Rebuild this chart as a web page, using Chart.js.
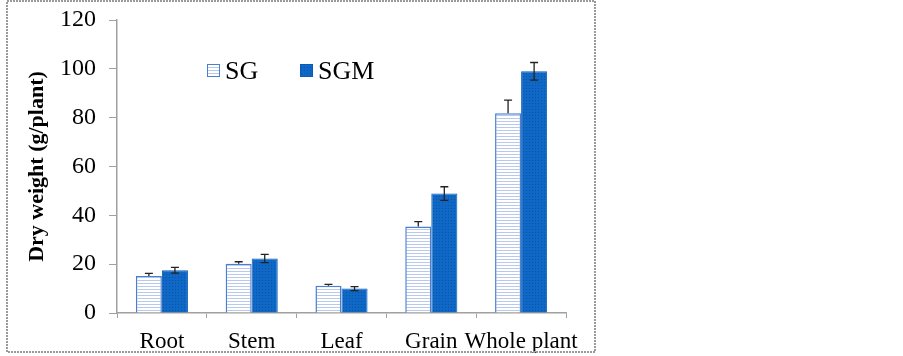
<!DOCTYPE html>
<html>
<head>
<meta charset="utf-8">
<script src="https://cdn.jsdelivr.net/npm/chart.js@4/dist/chart.umd.min.js"></script>
<style>
  body { margin: 0; background: #fff; }
  #wrap { width: 903px; height: 356px; position: relative; }
</style>
</head>
<body>
<div id="wrap"><canvas id="chart"></canvas></div>
<script>
const categories = ["Root", "Stem", "Leaf", "Grain", "Whole plant"];
const sgValues = [15.2, 20.2, 11.2, 35.4, 81.8];
const sgErrors = [1.0, 0.8, 0.5, 2.0, 5.4];
const sgmValues = [17.5, 22.3, 10.0, 48.9, 99.0];
const sgmErrors = [1.2, 1.7, 0.8, 2.8, 3.6];
const yTicks = [0, 20, 40, 60, 80, 100, 120];

const serif = "'Liberation Serif', 'Times New Roman', serif";

// striped fill for SG, dotted fill for SGM
function makePattern(bg, fg, type) {
    const c = document.createElement("canvas");
    c.width = 3;
    c.height = 3;
    const p = c.getContext("2d");
    p.fillStyle = bg;
    p.fillRect(0, 0, 3, 3);
    p.fillStyle = fg;
    if (type === "lines") {
        p.fillRect(0, 1, 3, 1);
    } else {
        p.fillRect(1, 1, 1, 1);
    }
    return document.createElement("canvas").getContext("2d").createPattern(c, "repeat");
}

const sgFill = makePattern("#ffffff", "#b8c8ee", "lines");
const sgmFill = makePattern("#0f68c6", "#0a55a6", "dots");

const errorBars = {
    id: "errorBars",
    afterDatasetsDraw(chart) {
        const ctx = chart.ctx;
        const y = chart.scales.y;
        const errs = [sgErrors, sgmErrors];
        ctx.save();
        ctx.strokeStyle = "#222";
        ctx.lineWidth = 1.3;
        chart.data.datasets.forEach((ds, i) => {
            const meta = chart.getDatasetMeta(i);
            meta.data.forEach((bar, j) => {
                const v = ds.data[j];
                const e = errs[i][j];
                const top = y.getPixelForValue(v + e);
                const bottom = i === 1 ? y.getPixelForValue(v - e) : y.getPixelForValue(v);
                ctx.beginPath();
                ctx.moveTo(bar.x, top);
                ctx.lineTo(bar.x, bottom);
                ctx.moveTo(bar.x - 4, top);
                ctx.lineTo(bar.x + 4, top);
                if (i === 1) {
                    ctx.moveTo(bar.x - 4, bottom);
                    ctx.lineTo(bar.x + 4, bottom);
                }
                ctx.stroke();
            });
        });
        ctx.restore();
    }
};

const legendAndFrame = {
    id: "legendAndFrame",
    afterDraw(chart) {
        const ctx = chart.ctx;
        ctx.save();
        // outer frame
        ctx.strokeStyle = "#9a9a9a";
        ctx.lineWidth = 2;
        ctx.setLineDash([2, 1]);
        ctx.strokeRect(7, 1, 588, 351);
        ctx.setLineDash([]);
        // legend
        const items = [
            { x: 207, ds: chart.data.datasets[0] },
            { x: 300, ds: chart.data.datasets[1] }
        ];
        ctx.font = "26px " + serif;
        ctx.textBaseline = "middle";
        items.forEach(it => {
            ctx.fillStyle = it.ds.backgroundColor;
            ctx.fillRect(it.x, 64, 13, 13);
            ctx.strokeStyle = it.ds.borderColor;
            ctx.lineWidth = 1;
            ctx.strokeRect(it.x + 0.5, 64.5, 12, 12);
            ctx.fillStyle = "#000";
            ctx.fillText(it.ds.label, it.x + 18, 72);
        });
        ctx.restore();
    }
};

new Chart(document.getElementById("chart"), {
    type: "bar",
    data: {
        labels: categories,
        datasets: [
            {
                label: "SG",
                data: sgValues,
                backgroundColor: sgFill,
                borderColor: "#4a7fd0",
                borderWidth: 1.5
            },
            {
                label: "SGM",
                data: sgmValues,
                backgroundColor: sgmFill,
                borderColor: "#0a5cb8",
                borderWidth: 1
            }
        ]
    },
    options: {
        responsive: true,
        maintainAspectRatio: false,
        animation: false,
        layout: { padding: { top: 20, right: 337, bottom: 0, left: 0 } },
        plugins: {
            legend: { display: false },
            tooltip: { enabled: false }
        },
        datasets: {
            bar: { categoryPercentage: 0.58, barPercentage: 1.0 }
        },
        scales: {
            x: {
                grid: { offset: true, drawOnChartArea: false, tickLength: 5, color: "#a0a0a0" },
                border: { color: "#a0a0a0", width: 1.5 },
                ticks: { color: "#000", font: { family: serif, size: 23 }, padding: 10, maxRotation: 0, autoSkip: false },
                afterFit(scale) { scale.height = 43; }
            },
            y: {
                min: 0,
                max: 120,
                afterBuildTicks(scale) { scale.ticks = yTicks.map(v => ({ value: v })); },
                grid: { drawOnChartArea: false, tickLength: 8, color: "#a0a0a0" },
                border: { color: "#a0a0a0", width: 1.5 },
                ticks: { color: "#000", font: { family: serif, size: 24 }, padding: 13 },
                title: {
                    display: true,
                    text: "Dry weight (g/plant)",
                    color: "#000",
                    font: { family: serif, size: 22, weight: "bold" },
                    padding: { top: 24, bottom: 0 }
                },
                afterFit(scale) {
                    scale.width = 117;
                    scale.paddingTop = 0;
                    scale.paddingBottom = 0;
                }
            }
        }
    },
    plugins: [errorBars, legendAndFrame]
});
</script>
</body>
</html>
